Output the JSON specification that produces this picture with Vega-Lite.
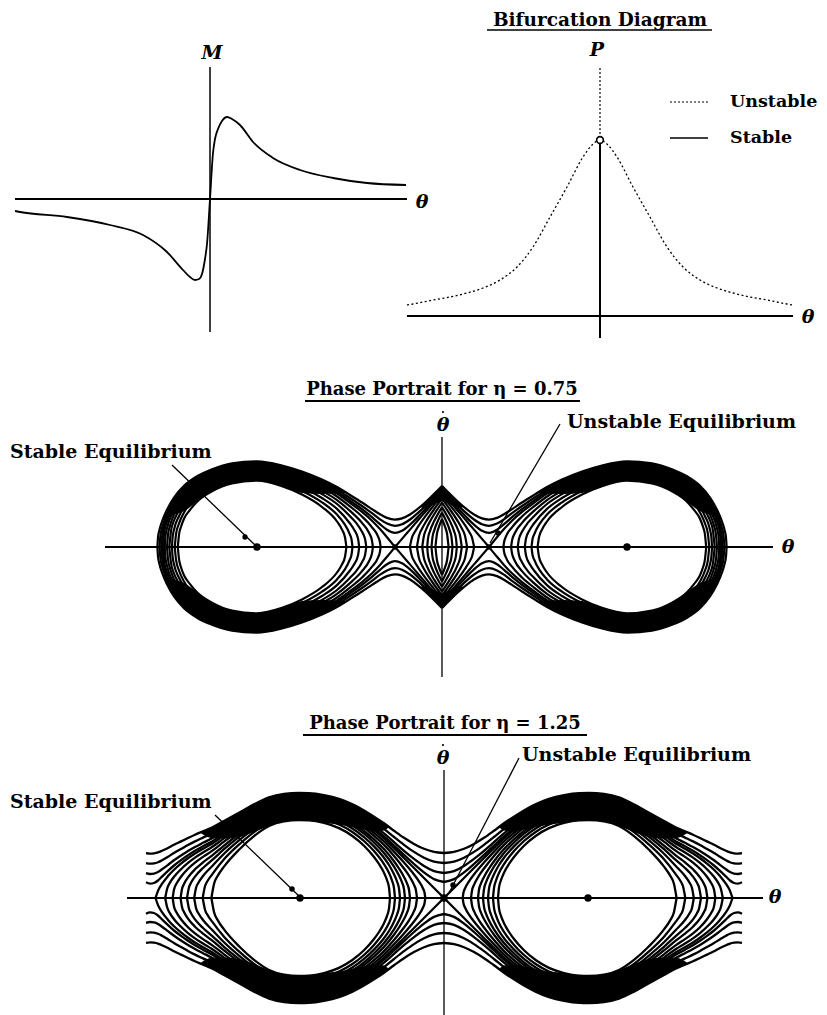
{
  "$schema": "https://vega.github.io/schema/vega-lite/v6.json",
  "background": "white",
  "padding": 0,
  "spacing": 0,
  "bounds": "flush",
  "config": {"view": {"stroke": null}, "concat": {"spacing": 0}},
  "datasets": {
    "p3": [
      {"k":"A","u":0,"w":61.1},{"k":"A","u":8,"w":52.9},{"k":"A","u":16,"w":45.2},{"k":"A","u":24,"w":38.3},{"k":"A","u":32,"w":32.5},{"k":"A","u":40,"w":28.6},{"k":"A","u":47,"w":27.4},{"k":"A","u":55,"w":29.1},{"k":"A","u":62,"w":32.7},{"k":"A","u":70,"w":37.9},{"k":"A","u":80,"w":44.5},{"k":"A","u":92,"w":52.0},{"k":"A","u":105,"w":60.0},{"k":"A","u":120,"w":67.5},{"k":"A","u":140,"w":75.5},{"k":"A","u":160,"w":81.5},{"k":"A","u":185,"w":85.7},{"k":"A","u":210,"w":83.7},{"k":"A","u":230,"w":77.8},{"k":"A","u":245,"w":70.7},{"k":"A","u":258,"w":61.2},{"k":"A","u":268,"w":49.5},{"k":"A","u":275,"w":37.4},{"k":"A","u":280,"w":25.5},{"k":"A","u":282.5,"w":17.3},{"k":"A","u":284,"w":9.5},{"k":"A","u":284.6,"w":0},
      {"k":"B","u":0,"w":58.6},{"k":"B","u":8,"w":50.0},{"k":"B","u":16,"w":41.8},{"k":"B","u":24,"w":34.1},{"k":"B","u":32,"w":27.5},{"k":"B","u":40,"w":22.7},{"k":"B","u":47,"w":21.2},{"k":"B","u":55,"w":23.4},{"k":"B","u":62,"w":27.7},{"k":"B","u":70,"w":33.8},{"k":"B","u":80,"w":41.0},{"k":"B","u":92,"w":49.0},{"k":"B","u":105,"w":57.4},{"k":"B","u":120,"w":65.2},{"k":"B","u":140,"w":73.5},{"k":"B","u":160,"w":79.7},{"k":"B","u":185,"w":84.0},{"k":"B","u":210,"w":81.9},{"k":"B","u":230,"w":75.8},{"k":"B","u":245,"w":68.6},{"k":"B","u":258,"w":58.7},{"k":"B","u":268,"w":46.4},{"k":"B","u":275,"w":33.2},{"k":"B","u":280,"w":18.7},{"k":"B","u":281.5,"w":11.8},{"k":"B","u":282.5,"w":0},
      {"k":"C","u":0,"w":56.4},{"k":"C","u":8,"w":47.5},{"k":"C","u":16,"w":38.7},{"k":"C","u":24,"w":30.2},{"k":"C","u":32,"w":22.4},{"k":"C","u":40,"w":16.3},{"k":"C","u":47,"w":14.1},{"k":"C","u":55,"w":17.2},{"k":"C","u":62,"w":22.8},{"k":"C","u":70,"w":29.8},{"k":"C","u":80,"w":37.8},{"k":"C","u":92,"w":46.4},{"k":"C","u":105,"w":55.2},{"k":"C","u":120,"w":63.2},{"k":"C","u":140,"w":71.8},{"k":"C","u":160,"w":78.1},{"k":"C","u":185,"w":82.5},{"k":"C","u":210,"w":80.3},{"k":"C","u":230,"w":74.2},{"k":"C","u":245,"w":66.7},{"k":"C","u":258,"w":56.6},{"k":"C","u":268,"w":43.6},{"k":"C","u":275,"w":29.2},{"k":"C","u":278,"w":20},{"k":"C","u":280,"w":10},{"k":"C","u":280.7,"w":0},
      {"k":"D1","u":0,"w":54.6},{"k":"D1","u":8,"w":45.3},{"k":"D1","u":16,"w":36.0},{"k":"D1","u":24,"w":26.7},{"k":"D1","u":32,"w":17.4},{"k":"D1","u":40,"w":8.1},{"k":"D1","u":47,"w":0},
      {"k":"D2","u":47,"w":0},{"k":"D2","u":55,"w":9.8},{"k":"D2","u":62,"w":17.9},{"k":"D2","u":70,"w":26.3},{"k":"D2","u":80,"w":35.1},{"k":"D2","u":92,"w":44.2},{"k":"D2","u":105,"w":53.4},{"k":"D2","u":120,"w":61.6},{"k":"D2","u":140,"w":70.4},{"k":"D2","u":160,"w":76.8},{"k":"D2","u":185,"w":81.2},{"k":"D2","u":210,"w":79.1},{"k":"D2","u":230,"w":72.8},{"k":"D2","u":245,"w":65.2},{"k":"D2","u":258,"w":54.8},{"k":"D2","u":268,"w":41.2},{"k":"D2","u":275,"w":25.5},{"k":"D2","u":277.5,"w":16.6},{"k":"D2","u":279.3,"w":0},
      {"k":"E1","u":0,"w":51.8},{"k":"E1","u":8,"w":41.9},{"k":"E1","u":16,"w":31.6},{"k":"E1","u":24,"w":20.3},{"k":"E1","u":28,"w":13.7},{"k":"E1","u":30,"w":9.5},{"k":"E1","u":32.1,"w":0},
      {"k":"E2","u":61.4,"w":0},{"k":"E2","u":62,"w":4.5},{"k":"E2","u":64,"w":10.6},{"k":"E2","u":70,"w":19.7},{"k":"E2","u":80,"w":30.5},{"k":"E2","u":92,"w":40.6},{"k":"E2","u":105,"w":50.5},{"k":"E2","u":120,"w":59.2},{"k":"E2","u":140,"w":68.2},{"k":"E2","u":160,"w":74.8},{"k":"E2","u":185,"w":79.4},{"k":"E2","u":210,"w":77.1},{"k":"E2","u":230,"w":70.7},{"k":"E2","u":245,"w":62.8},{"k":"E2","u":258,"w":52.0},{"k":"E2","u":268,"w":37.4},{"k":"E2","u":275,"w":18.7},{"k":"E2","u":276.5,"w":11.2},{"k":"E2","u":277.3,"w":0},
      {"k":"F1","u":0,"w":48.3},{"k":"F1","u":8,"w":37.5},{"k":"F1","u":16,"w":25.4},{"k":"F1","u":20,"w":18.3},{"k":"F1","u":23,"w":11.3},{"k":"F1","u":25.1,"w":0},
      {"k":"F2","u":69.1,"w":0},{"k":"F2","u":70,"w":6.3},{"k":"F2","u":73,"w":14.2},{"k":"F2","u":80,"w":24.1},{"k":"F2","u":92,"w":36.1},{"k":"F2","u":105,"w":46.9},{"k":"F2","u":120,"w":56.1},{"k":"F2","u":140,"w":65.6},{"k":"F2","u":160,"w":72.5},{"k":"F2","u":185,"w":77.1},{"k":"F2","u":210,"w":74.8},{"k":"F2","u":230,"w":68.2},{"k":"F2","u":245,"w":60.0},{"k":"F2","u":258,"w":48.5},{"k":"F2","u":268,"w":32.4},{"k":"F2","u":272,"w":21.2},{"k":"F2","u":274,"w":12.2},{"k":"F2","u":275,"w":0},
      {"k":"G1","u":0,"w":44.5},{"k":"G1","u":8,"w":32.4},{"k":"G1","u":12,"w":25.6},{"k":"G1","u":16,"w":17.2},{"k":"G1","u":18,"w":11.6},{"k":"G1","u":19.8,"w":0},
      {"k":"G2","u":75.7,"w":0},{"k":"G2","u":77,"w":8.2},{"k":"G2","u":80,"w":15.2},{"k":"G2","u":86,"w":24.3},{"k":"G2","u":92,"w":30.8},{"k":"G2","u":105,"w":43.0},{"k":"G2","u":120,"w":52.9},{"k":"G2","u":140,"w":62.8},{"k":"G2","u":160,"w":70.0},{"k":"G2","u":185,"w":74.8},{"k":"G2","u":210,"w":72.5},{"k":"G2","u":230,"w":65.6},{"k":"G2","u":245,"w":57.0},{"k":"G2","u":258,"w":44.7},{"k":"G2","u":265,"w":33.0},{"k":"G2","u":268,"w":26.5},{"k":"G2","u":271,"w":15.8},{"k":"G2","u":272.7,"w":0},
      {"k":"H1","u":0,"w":39.8},{"k":"H1","u":5,"w":31.3},{"k":"H1","u":8,"w":25.6},{"k":"H1","u":12,"w":15.9},{"k":"H1","u":14,"w":8.4},{"k":"H1","u":14.8,"w":0},
      {"k":"H2","u":82.8,"w":0},{"k":"H2","u":84,"w":8.4},{"k":"H2","u":88,"w":17.6},{"k":"H2","u":92,"w":23.5},{"k":"H2","u":105,"w":38.1},{"k":"H2","u":120,"w":49.0},{"k":"H2","u":140,"w":59.6},{"k":"H2","u":160,"w":67.1},{"k":"H2","u":185,"w":72.1},{"k":"H2","u":210,"w":69.6},{"k":"H2","u":230,"w":62.4},{"k":"H2","u":245,"w":53.4},{"k":"H2","u":258,"w":40.0},{"k":"H2","u":263,"w":30.8},{"k":"H2","u":268,"w":17.3},{"k":"H2","u":269.5,"w":8.7},{"k":"H2","u":270,"w":0},
      {"k":"I1","u":0,"w":34.4},{"k":"I1","u":4,"w":26.4},{"k":"I1","u":8,"w":15.9},{"k":"I1","u":9.5,"w":9.9},{"k":"I1","u":10.5,"w":0},
      {"k":"I2","u":89.5,"w":0},{"k":"I2","u":90.5,"w":7.7},{"k":"I2","u":92,"w":12.2},{"k":"I2","u":98,"w":23.7},{"k":"I2","u":105,"w":32.4},{"k":"I2","u":120,"w":44.7},{"k":"I2","u":140,"w":56.1},{"k":"I2","u":160,"w":64.0},{"k":"I2","u":185,"w":69.3},{"k":"I2","u":210,"w":66.7},{"k":"I2","u":230,"w":59.2},{"k":"I2","u":245,"w":49.5},{"k":"I2","u":258,"w":34.6},{"k":"I2","u":263,"w":23.5},{"k":"I2","u":266,"w":12.6},{"k":"I2","u":267.2,"w":0},
      {"k":"J1","u":0,"w":28.0},{"k":"J1","u":3,"w":20.3},{"k":"J1","u":5,"w":13.5},{"k":"J1","u":6.6,"w":0},
      {"k":"J2","u":95.6,"w":0},{"k":"J2","u":97,"w":9.7},{"k":"J2","u":100,"w":17.4},{"k":"J2","u":105,"w":25.5},{"k":"J2","u":120,"w":40.0},{"k":"J2","u":140,"w":52.4},{"k":"J2","u":160,"w":60.8},{"k":"J2","u":185,"w":66.3},{"k":"J2","u":210,"w":63.6},{"k":"J2","u":230,"w":55.7},{"k":"J2","u":245,"w":45.3},{"k":"J2","u":252,"w":37.1},{"k":"J2","u":258,"w":28.3},{"k":"J2","u":261,"w":20.2},{"k":"J2","u":263,"w":12.2},{"k":"J2","u":264.2,"w":0}
    ],
    "b3": [
      {"s":"band","u":95,"lo":53.9,"hi":53.9},{"s":"band","u":105,"lo":53.4,"hi":60.0},{"s":"band","u":120,"lo":52.9,"hi":67.5},{"s":"band","u":140,"lo":54.0,"hi":75.5},{"s":"band","u":160,"lo":60.8,"hi":81.5},{"s":"band","u":185,"lo":66.3,"hi":85.7},{"s":"band","u":210,"lo":63.6,"hi":83.7},{"s":"band","u":230,"lo":55.7,"hi":77.8},{"s":"band","u":245,"lo":45.3,"hi":70.7},{"s":"band","u":258,"lo":36.0,"hi":61.2},{"s":"band","u":268,"lo":32.4,"hi":49.5},{"s":"band","u":275,"lo":29.2,"hi":37.4},{"s":"band","u":279,"lo":28.0,"hi":28.0},
      {"s":"cap","u":0,"lo":46.0,"hi":61.1},{"s":"cap","u":8,"lo":43.0,"hi":52.9},{"s":"cap","u":16,"lo":39.0,"hi":45.2},{"s":"cap","u":22,"lo":40.0,"hi":40.0}
    ],
    "p4": [
      {"k":"A","u":0,"w":45.0},{"k":"A","u":10,"w":46.1},{"k":"A","u":20,"w":49.2},{"k":"A","u":30,"w":54.1},{"k":"A","u":40,"w":60.2},{"k":"A","u":50,"w":67.3},{"k":"A","u":60,"w":74.7},{"k":"A","u":70,"w":81.4},{"k":"A","u":80,"w":87.6},{"k":"A","u":92,"w":93.9},{"k":"A","u":105,"w":99.1},{"k":"A","u":120,"w":102.8},{"k":"A","u":135,"w":104.8},{"k":"A","u":145,"w":105.0},{"k":"A","u":160,"w":104.0},{"k":"A","u":175,"w":100.6},{"k":"A","u":190,"w":93.7},{"k":"A","u":205,"w":85.3},{"k":"A","u":220,"w":77.0},{"k":"A","u":232,"w":70.5},{"k":"A","u":241,"w":66.7},{"k":"A","u":249,"w":63.3},{"k":"A","u":256,"w":60.0},{"k":"A","u":263,"w":56.6},{"k":"A","u":270,"w":53.2},{"k":"A","u":276,"w":50.0},{"k":"A","u":282,"w":47.2},{"k":"A","u":286,"w":45.6},{"k":"A","u":290,"w":44.7},{"k":"A","u":294,"w":44.4},{"k":"A","u":298,"w":44.9},
      {"k":"B","u":0,"w":35.0},{"k":"B","u":10,"w":36.4},{"k":"B","u":20,"w":40.3},{"k":"B","u":30,"w":46.1},{"k":"B","u":40,"w":53.2},{"k":"B","u":50,"w":61.0},{"k":"B","u":60,"w":69.1},{"k":"B","u":70,"w":76.3},{"k":"B","u":80,"w":82.9},{"k":"B","u":92,"w":89.6},{"k":"B","u":105,"w":95.0},{"k":"B","u":120,"w":98.9},{"k":"B","u":135,"w":100.9},{"k":"B","u":145,"w":101.1},{"k":"B","u":160,"w":100.1},{"k":"B","u":175,"w":96.6},{"k":"B","u":190,"w":89.3},{"k":"B","u":205,"w":80.5},{"k":"B","u":220,"w":71.6},{"k":"B","u":232,"w":64.6},{"k":"B","u":241,"w":60.4},{"k":"B","u":249,"w":56.6},{"k":"B","u":256,"w":53.0},{"k":"B","u":263,"w":49.0},{"k":"B","u":270,"w":45.0},{"k":"B","u":276,"w":41.3},{"k":"B","u":282,"w":37.7},{"k":"B","u":286,"w":35.7},{"k":"B","u":290,"w":34.6},{"k":"B","u":294,"w":34.3},{"k":"B","u":298,"w":34.9},
      {"k":"C","u":0,"w":25.0},{"k":"C","u":10,"w":26.9},{"k":"C","u":20,"w":32.0},{"k":"C","u":30,"w":39.1},{"k":"C","u":40,"w":47.2},{"k":"C","u":50,"w":55.9},{"k":"C","u":60,"w":64.6},{"k":"C","u":70,"w":72.3},{"k":"C","u":80,"w":79.2},{"k":"C","u":92,"w":86.2},{"k":"C","u":105,"w":91.8},{"k":"C","u":120,"w":95.8},{"k":"C","u":135,"w":97.9},{"k":"C","u":145,"w":98.1},{"k":"C","u":160,"w":97.1},{"k":"C","u":175,"w":93.4},{"k":"C","u":190,"w":85.9},{"k":"C","u":205,"w":76.6},{"k":"C","u":220,"w":67.3},{"k":"C","u":232,"w":59.8},{"k":"C","u":241,"w":55.2},{"k":"C","u":249,"w":51.0},{"k":"C","u":256,"w":47.0},{"k":"C","u":263,"w":42.5},{"k":"C","u":270,"w":37.7},{"k":"C","u":276,"w":33.2},{"k":"C","u":282,"w":28.7},{"k":"C","u":286,"w":26.0},{"k":"C","u":290,"w":24.4},{"k":"C","u":294,"w":24.0},{"k":"C","u":298,"w":24.8},
      {"k":"D","u":0,"w":16.0},{"k":"D","u":10,"w":18.9},{"k":"D","u":20,"w":25.6},{"k":"D","u":30,"w":34.0},{"k":"D","u":40,"w":43.1},{"k":"D","u":50,"w":52.5},{"k":"D","u":60,"w":61.7},{"k":"D","u":70,"w":69.7},{"k":"D","u":80,"w":76.9},{"k":"D","u":92,"w":84.0},{"k":"D","u":105,"w":89.8},{"k":"D","u":120,"w":93.8},{"k":"D","u":135,"w":95.9},{"k":"D","u":145,"w":96.2},{"k":"D","u":160,"w":95.2},{"k":"D","u":175,"w":91.4},{"k":"D","u":190,"w":83.7},{"k":"D","u":205,"w":74.2},{"k":"D","u":220,"w":64.5},{"k":"D","u":232,"w":56.6},{"k":"D","u":241,"w":51.7},{"k":"D","u":249,"w":47.3},{"k":"D","u":256,"w":42.8},{"k":"D","u":263,"w":37.9},{"k":"D","u":270,"w":32.5},{"k":"D","u":276,"w":27.1},{"k":"D","u":282,"w":21.4},{"k":"D","u":286,"w":17.5},{"k":"D","u":290,"w":15.0},{"k":"D","u":294,"w":14.4},{"k":"D","u":298,"w":15.7},
      {"k":"E","u":0,"w":0},{"k":"E","u":10,"w":10},{"k":"E","u":20,"w":20},{"k":"E","u":30,"w":30},{"k":"E","u":40,"w":40},{"k":"E","u":50,"w":50},{"k":"E","u":60,"w":59.6},{"k":"E","u":70,"w":67.8},{"k":"E","u":80,"w":75.2},{"k":"E","u":92,"w":82.5},{"k":"E","u":105,"w":88.3},{"k":"E","u":120,"w":92.5},{"k":"E","u":135,"w":94.6},{"k":"E","u":145,"w":94.9},{"k":"E","u":160,"w":93.8},{"k":"E","u":175,"w":90.0},{"k":"E","u":190,"w":82.2},{"k":"E","u":205,"w":72.5},{"k":"E","u":220,"w":62.4},{"k":"E","u":232,"w":54.3},{"k":"E","u":241,"w":49.2},{"k":"E","u":249,"w":44.5},{"k":"E","u":256,"w":39.7},{"k":"E","u":263,"w":34.4},{"k":"E","u":270,"w":28.3},{"k":"E","u":276,"w":21.9},{"k":"E","u":282,"w":14.1},{"k":"E","u":286,"w":7.1},{"k":"E","u":288.5,"w":0},
      {"k":"F","u":18.7,"w":0},{"k":"F","u":19.5,"w":5.5},{"k":"F","u":21,"w":9.5},{"k":"F","u":25,"w":16.6},{"k":"F","u":30,"w":23.5},{"k":"F","u":40,"w":35.4},{"k":"F","u":50,"w":46.4},{"k":"F","u":60,"w":56.6},{"k":"F","u":70,"w":65.2},{"k":"F","u":80,"w":72.8},{"k":"F","u":92,"w":80.3},{"k":"F","u":105,"w":86.3},{"k":"F","u":120,"w":90.6},{"k":"F","u":135,"w":92.7},{"k":"F","u":145,"w":93.0},{"k":"F","u":160,"w":91.9},{"k":"F","u":175,"w":88.0},{"k":"F","u":190,"w":80.0},{"k":"F","u":205,"w":70.0},{"k":"F","u":220,"w":59.6},{"k":"F","u":232,"w":51.0},{"k":"F","u":241,"w":45.5},{"k":"F","u":249,"w":40.4},{"k":"F","u":256,"w":35.1},{"k":"F","u":263,"w":28.8},{"k":"F","u":270,"w":21.2},{"k":"F","u":274,"w":15.4},{"k":"F","u":277,"w":8.8},{"k":"F","u":278.8,"w":0},
      {"k":"G","u":27,"w":0},{"k":"G","u":28,"w":7.4},{"k":"G","u":30,"w":13.1},{"k":"G","u":35,"w":22.3},{"k":"G","u":40,"w":29.5},{"k":"G","u":50,"w":42.1},{"k":"G","u":60,"w":53.1},{"k":"G","u":70,"w":62.2},{"k":"G","u":80,"w":70.1},{"k":"G","u":92,"w":77.9},{"k":"G","u":105,"w":84.1},{"k":"G","u":120,"w":88.4},{"k":"G","u":135,"w":90.7},{"k":"G","u":145,"w":90.9},{"k":"G","u":160,"w":89.8},{"k":"G","u":175,"w":85.9},{"k":"G","u":190,"w":77.6},{"k":"G","u":205,"w":67.2},{"k":"G","u":220,"w":56.3},{"k":"G","u":232,"w":47.1},{"k":"G","u":241,"w":41.1},{"k":"G","u":249,"w":35.4},{"k":"G","u":256,"w":29.2},{"k":"G","u":263,"w":21.2},{"k":"G","u":267,"w":15.3},{"k":"G","u":270,"w":8.4},{"k":"G","u":271.3,"w":0},
      {"k":"H","u":34,"w":0},{"k":"H","u":35,"w":8.3},{"k":"H","u":37,"w":14.6},{"k":"H","u":40,"w":21.1},{"k":"H","u":45,"w":29.5},{"k":"H","u":50,"w":36.7},{"k":"H","u":60,"w":48.9},{"k":"H","u":70,"w":58.7},{"k":"H","u":80,"w":67.0},{"k":"H","u":92,"w":75.1},{"k":"H","u":105,"w":81.5},{"k":"H","u":120,"w":86.0},{"k":"H","u":135,"w":88.3},{"k":"H","u":145,"w":88.6},{"k":"H","u":160,"w":87.4},{"k":"H","u":175,"w":83.3},{"k":"H","u":190,"w":74.8},{"k":"H","u":205,"w":64.0},{"k":"H","u":220,"w":52.4},{"k":"H","u":232,"w":42.4},{"k":"H","u":241,"w":35.6},{"k":"H","u":249,"w":28.7},{"k":"H","u":256,"w":20.6},{"k":"H","u":260,"w":14.0},{"k":"H","u":262,"w":9.0},{"k":"H","u":263.4,"w":0},
      {"k":"I","u":39,"w":0},{"k":"I","u":40,"w":8.9},{"k":"I","u":42,"w":15.6},{"k":"I","u":45,"w":22.4},{"k":"I","u":50,"w":31.3},{"k":"I","u":60,"w":45.0},{"k":"I","u":70,"w":55.5},{"k":"I","u":80,"w":64.3},{"k":"I","u":92,"w":72.7},{"k":"I","u":105,"w":79.2},{"k":"I","u":120,"w":83.8},{"k":"I","u":135,"w":86.2},{"k":"I","u":145,"w":86.5},{"k":"I","u":160,"w":85.3},{"k":"I","u":175,"w":81.1},{"k":"I","u":190,"w":72.3},{"k":"I","u":205,"w":61.1},{"k":"I","u":220,"w":48.8},{"k":"I","u":232,"w":37.8},{"k":"I","u":241,"w":30.0},{"k":"I","u":249,"w":21.4},{"k":"I","u":253,"w":15.2},{"k":"I","u":255,"w":10.8},{"k":"I","u":257,"w":0},
      {"k":"J","u":44,"w":0},{"k":"J","u":45,"w":9.4},{"k":"J","u":47,"w":16.5},{"k":"J","u":50,"w":23.7},{"k":"J","u":55,"w":33.0},{"k":"J","u":60,"w":40.2},{"k":"J","u":70,"w":51.6},{"k":"J","u":80,"w":60.9},{"k":"J","u":92,"w":69.7},{"k":"J","u":105,"w":76.6},{"k":"J","u":120,"w":81.3},{"k":"J","u":135,"w":83.7},{"k":"J","u":145,"w":84.0},{"k":"J","u":160,"w":82.8},{"k":"J","u":175,"w":78.5},{"k":"J","u":190,"w":69.4},{"k":"J","u":205,"w":57.6},{"k":"J","u":220,"w":44.3},{"k":"J","u":232,"w":31.8},{"k":"J","u":241,"w":22.0},{"k":"J","u":245,"w":16.2},{"k":"J","u":248,"w":9.9},{"k":"J","u":249.8,"w":0},
      {"k":"K","u":49,"w":0},{"k":"K","u":50,"w":9.9},{"k":"K","u":52,"w":17.4},{"k":"K","u":55,"w":25.0},{"k":"K","u":60,"w":33.9},{"k":"K","u":70,"w":46.9},{"k":"K","u":80,"w":57.0},{"k":"K","u":92,"w":66.3},{"k":"K","u":105,"w":73.5},{"k":"K","u":120,"w":78.4},{"k":"K","u":135,"w":80.9},{"k":"K","u":145,"w":81.2},{"k":"K","u":160,"w":80.0},{"k":"K","u":175,"w":75.5},{"k":"K","u":190,"w":65.9},{"k":"K","u":205,"w":53.4},{"k":"K","u":220,"w":38.7},{"k":"K","u":232,"w":23.4},{"k":"K","u":236,"w":17.7},{"k":"K","u":239,"w":11.7},{"k":"K","u":241.3,"w":0},
      {"k":"L","u":54,"w":0},{"k":"L","u":55,"w":10.4},{"k":"L","u":57,"w":17.9},{"k":"L","u":60,"w":25.2},{"k":"L","u":65,"w":34.0},{"k":"L","u":70,"w":41.0},{"k":"L","u":80,"w":52.3},{"k":"L","u":92,"w":62.3},{"k":"L","u":105,"w":69.9},{"k":"L","u":120,"w":75.1},{"k":"L","u":135,"w":77.7},{"k":"L","u":145,"w":78.0},{"k":"L","u":160,"w":76.7},{"k":"L","u":175,"w":72.0},{"k":"L","u":190,"w":61.9},{"k":"L","u":205,"w":48.3},{"k":"L","u":220,"w":31.4},{"k":"L","u":226,"w":22.6},{"k":"L","u":230,"w":13.9},{"k":"L","u":232.6,"w":0}
    ],
    "b4": [
      {"s":"band","u":55,"lo":71.1,"hi":71.1},{"s":"band","u":60,"lo":67.5,"hi":74.7},{"s":"band","u":70,"lo":66.5,"hi":81.4},{"s":"band","u":80,"lo":68.5,"hi":87.6},{"s":"band","u":92,"lo":71.0,"hi":93.9},{"s":"band","u":105,"lo":73.5,"hi":99.1},{"s":"band","u":120,"lo":75.1,"hi":102.8},{"s":"band","u":135,"lo":77.7,"hi":104.8},{"s":"band","u":145,"lo":78.0,"hi":105.0},{"s":"band","u":160,"lo":76.7,"hi":104.0},{"s":"band","u":175,"lo":72.0,"hi":100.6},{"s":"band","u":190,"lo":65.9,"hi":93.7},{"s":"band","u":205,"lo":61.1,"hi":85.3},{"s":"band","u":220,"lo":59.6,"hi":77.0},{"s":"band","u":232,"lo":59.8,"hi":70.5},{"s":"band","u":244,"lo":65.4,"hi":65.4}
    ]
  },
  "vconcat": [
    {
      "width": 827,
      "height": 345,
      "resolve": {"scale": {"x": "independent", "y": "independent"}},
      "layer": [
        {
          "data": {"values": [{"u": -195, "u2": 197, "w": 0}]},
          "mark": {"type": "rule", "color": "#000", "strokeWidth": 2},
          "encoding": {
            "x": {"field": "u", "type": "quantitative", "scale": {"domain": [-210, 617], "nice": false, "zero": false}, "axis": null},
            "x2": {"field": "u2"},
            "y": {"field": "w", "type": "quantitative", "scale": {"domain": [-146, 199], "nice": false, "zero": false}, "axis": null}
          }
        },
        {
          "data": {"values": [{"u": 0, "w": 132, "w2": -133}]},
          "mark": {"type": "rule", "color": "#000", "strokeWidth": 1.5},
          "encoding": {
            "x": {"field": "u", "type": "quantitative", "scale": {"domain": [-210, 617], "nice": false, "zero": false}, "axis": null},
            "y": {"field": "w", "type": "quantitative", "scale": {"domain": [-146, 199], "nice": false, "zero": false}, "axis": null},
            "y2": {"field": "w2"}
          }
        },
        {
          "data": {"values": [
            {"u": -195, "w": -12}, {"u": -190, "w": -13}, {"u": -143, "w": -18}, {"u": -100, "w": -26}, {"u": -67, "w": -36},
            {"u": -43, "w": -53}, {"u": -27, "w": -71}, {"u": -20, "w": -78}, {"u": -15, "w": -81}, {"u": -11, "w": -80},
            {"u": -8, "w": -75}, {"u": -5, "w": -60}, {"u": -3, "w": -45}, {"u": 0, "w": 0}, {"u": 3, "w": 46},
            {"u": 5, "w": 60}, {"u": 8, "w": 70}, {"u": 12, "w": 78}, {"u": 17, "w": 82}, {"u": 22, "w": 80},
            {"u": 30, "w": 74}, {"u": 43, "w": 57}, {"u": 63, "w": 41}, {"u": 90, "w": 29}, {"u": 123, "w": 21},
            {"u": 157, "w": 16}, {"u": 196, "w": 14}
          ]},
          "mark": {"type": "line", "interpolate": "monotone", "color": "#000", "strokeWidth": 1.8},
          "encoding": {
            "x": {"field": "u", "type": "quantitative", "scale": {"domain": [-210, 617], "nice": false, "zero": false}, "axis": null},
            "y": {"field": "w", "type": "quantitative", "scale": {"domain": [-146, 199], "nice": false, "zero": false}, "axis": null},
            "order": {"field": "u", "type": "quantitative"}
          }
        },
        {
          "data": {"values": [{"u": 2, "w": 146, "t": "M"}, {"u": 212, "w": -3, "t": "θ"}]},
          "mark": {"type": "text", "font": "DejaVu Serif", "fontWeight": "bold", "fontStyle": "italic", "fontSize": 19, "align": "center", "baseline": "middle", "color": "#000"},
          "encoding": {
            "x": {"field": "u", "type": "quantitative", "scale": {"domain": [-210, 617], "nice": false, "zero": false}, "axis": null},
            "y": {"field": "w", "type": "quantitative", "scale": {"domain": [-146, 199], "nice": false, "zero": false}, "axis": null},
            "text": {"field": "t"}
          }
        },
        {
          "data": {"values": [{"u": -193, "u2": 193, "w": 0}]},
          "mark": {"type": "rule", "color": "#000", "strokeWidth": 2},
          "encoding": {
            "x": {"field": "u", "type": "quantitative", "scale": {"domain": [-600, 227], "nice": false, "zero": false}, "axis": null},
            "x2": {"field": "u2"},
            "y": {"field": "w", "type": "quantitative", "scale": {"domain": [-29, 316], "nice": false, "zero": false}, "axis": null}
          }
        },
        {
          "data": {"values": [{"u": 0, "w": 176, "w2": -22}]},
          "mark": {"type": "rule", "color": "#000", "strokeWidth": 2},
          "encoding": {
            "x": {"field": "u", "type": "quantitative", "scale": {"domain": [-600, 227], "nice": false, "zero": false}, "axis": null},
            "y": {"field": "w", "type": "quantitative", "scale": {"domain": [-29, 316], "nice": false, "zero": false}, "axis": null},
            "y2": {"field": "w2"}
          }
        },
        {
          "data": {"values": [{"u": 0, "w": 248, "w2": 178}]},
          "mark": {"type": "rule", "color": "#000", "strokeWidth": 1.2, "strokeDash": [2, 2]},
          "encoding": {
            "x": {"field": "u", "type": "quantitative", "scale": {"domain": [-600, 227], "nice": false, "zero": false}, "axis": null},
            "y": {"field": "w", "type": "quantitative", "scale": {"domain": [-29, 316], "nice": false, "zero": false}, "axis": null},
            "y2": {"field": "w2"}
          }
        },
        {
          "data": {"values": [
            {"u": -193, "w": 11}, {"u": -187, "w": 12}, {"u": -167, "w": 16}, {"u": -150, "w": 19}, {"u": -133, "w": 23},
            {"u": -117, "w": 28}, {"u": -100, "w": 36}, {"u": -83, "w": 49}, {"u": -67, "w": 69}, {"u": -50, "w": 99},
            {"u": -33, "w": 129}, {"u": -17, "w": 159}, {"u": -8, "w": 171}, {"u": 0, "w": 176}, {"u": 8, "w": 171},
            {"u": 17, "w": 159}, {"u": 33, "w": 129}, {"u": 50, "w": 99}, {"u": 67, "w": 69}, {"u": 83, "w": 49},
            {"u": 100, "w": 36}, {"u": 117, "w": 28}, {"u": 133, "w": 23}, {"u": 150, "w": 19}, {"u": 167, "w": 16},
            {"u": 187, "w": 12}, {"u": 193, "w": 11}
          ]},
          "mark": {"type": "line", "interpolate": "monotone", "color": "#000", "strokeWidth": 1.3, "strokeDash": [2, 2.5]},
          "encoding": {
            "x": {"field": "u", "type": "quantitative", "scale": {"domain": [-600, 227], "nice": false, "zero": false}, "axis": null},
            "y": {"field": "w", "type": "quantitative", "scale": {"domain": [-29, 316], "nice": false, "zero": false}, "axis": null},
            "order": {"field": "u", "type": "quantitative"}
          }
        },
        {
          "data": {"values": [{"u": 0, "w": 176}]},
          "mark": {"type": "circle", "size": 45, "fill": "white", "stroke": "#000", "strokeWidth": 1.6, "opacity": 1},
          "encoding": {
            "x": {"field": "u", "type": "quantitative", "scale": {"domain": [-600, 227], "nice": false, "zero": false}, "axis": null},
            "y": {"field": "w", "type": "quantitative", "scale": {"domain": [-29, 316], "nice": false, "zero": false}, "axis": null}
          }
        },
        {
          "data": {"values": [{"u": 70, "u2": 108, "w": 214}]},
          "mark": {"type": "rule", "color": "#000", "strokeWidth": 1.2, "strokeDash": [2, 2]},
          "encoding": {
            "x": {"field": "u", "type": "quantitative", "scale": {"domain": [-600, 227], "nice": false, "zero": false}, "axis": null},
            "x2": {"field": "u2"},
            "y": {"field": "w", "type": "quantitative", "scale": {"domain": [-29, 316], "nice": false, "zero": false}, "axis": null}
          }
        },
        {
          "data": {"values": [{"u": 70, "u2": 108, "w": 178}, {"u": -113, "u2": 112, "w": 286}]},
          "mark": {"type": "rule", "color": "#000", "strokeWidth": 1.6},
          "encoding": {
            "x": {"field": "u", "type": "quantitative", "scale": {"domain": [-600, 227], "nice": false, "zero": false}, "axis": null},
            "x2": {"field": "u2"},
            "y": {"field": "w", "type": "quantitative", "scale": {"domain": [-29, 316], "nice": false, "zero": false}, "axis": null}
          }
        },
        {
          "data": {"values": [{"u": 130, "w": 214, "t": "Unstable"}, {"u": 130, "w": 178, "t": "Stable"}]},
          "mark": {"type": "text", "font": "DejaVu Serif", "fontWeight": "bold", "fontSize": 17.5, "align": "left", "baseline": "middle", "color": "#000"},
          "encoding": {
            "x": {"field": "u", "type": "quantitative", "scale": {"domain": [-600, 227], "nice": false, "zero": false}, "axis": null},
            "y": {"field": "w", "type": "quantitative", "scale": {"domain": [-29, 316], "nice": false, "zero": false}, "axis": null},
            "text": {"field": "t"}
          }
        },
        {
          "data": {"values": [{"u": 0, "w": 296, "t": "Bifurcation Diagram"}]},
          "mark": {"type": "text", "font": "DejaVu Serif", "fontWeight": "bold", "fontSize": 18.5, "align": "center", "baseline": "middle", "color": "#000"},
          "encoding": {
            "x": {"field": "u", "type": "quantitative", "scale": {"domain": [-600, 227], "nice": false, "zero": false}, "axis": null},
            "y": {"field": "w", "type": "quantitative", "scale": {"domain": [-29, 316], "nice": false, "zero": false}, "axis": null},
            "text": {"field": "t"}
          }
        },
        {
          "data": {"values": [{"u": -3, "w": 266, "t": "P"}, {"u": 208, "w": -1, "t": "θ"}]},
          "mark": {"type": "text", "font": "DejaVu Serif", "fontWeight": "bold", "fontStyle": "italic", "fontSize": 19, "align": "center", "baseline": "middle", "color": "#000"},
          "encoding": {
            "x": {"field": "u", "type": "quantitative", "scale": {"domain": [-600, 227], "nice": false, "zero": false}, "axis": null},
            "y": {"field": "w", "type": "quantitative", "scale": {"domain": [-29, 316], "nice": false, "zero": false}, "axis": null},
            "text": {"field": "t"}
          }
        }
      ]
    },
    {
      "width": 827,
      "height": 355,
      "resolve": {"scale": {"x": "independent", "y": "independent"}},
      "layer": [
        {
          "data": {"name": "b3"},
          "mark": {"type": "area", "orient": "vertical", "interpolate": "monotone", "color": "#000", "opacity": 1},
          "encoding": {
            "x": {"field": "u", "type": "quantitative", "scale": {"domain": [-442, 385], "nice": false, "zero": false}, "axis": null},
            "y": {"field": "hi", "type": "quantitative", "stack": null, "scale": {"domain": [-153, 202], "nice": false, "zero": false}, "axis": null},
            "y2": {"field": "lo"},
            "detail": {"field": "s"}
          }
        },
        {
          "data": {"name": "b3"},
          "mark": {"type": "area", "orient": "vertical", "interpolate": "monotone", "color": "#000", "opacity": 1},
          "encoding": {
            "x": {"field": "u", "type": "quantitative", "scale": {"domain": [-385, 442], "reverse": true, "nice": false, "zero": false}, "axis": null},
            "y": {"field": "hi", "type": "quantitative", "stack": null, "scale": {"domain": [-153, 202], "nice": false, "zero": false}, "axis": null},
            "y2": {"field": "lo"},
            "detail": {"field": "s"}
          }
        },
        {
          "data": {"name": "b3"},
          "mark": {"type": "area", "orient": "vertical", "interpolate": "monotone", "color": "#000", "opacity": 1},
          "encoding": {
            "x": {"field": "u", "type": "quantitative", "scale": {"domain": [-442, 385], "nice": false, "zero": false}, "axis": null},
            "y": {"field": "hi", "type": "quantitative", "stack": null, "scale": {"domain": [-202, 153], "reverse": true, "nice": false, "zero": false}, "axis": null},
            "y2": {"field": "lo"},
            "detail": {"field": "s"}
          }
        },
        {
          "data": {"name": "b3"},
          "mark": {"type": "area", "orient": "vertical", "interpolate": "monotone", "color": "#000", "opacity": 1},
          "encoding": {
            "x": {"field": "u", "type": "quantitative", "scale": {"domain": [-385, 442], "reverse": true, "nice": false, "zero": false}, "axis": null},
            "y": {"field": "hi", "type": "quantitative", "stack": null, "scale": {"domain": [-202, 153], "reverse": true, "nice": false, "zero": false}, "axis": null},
            "y2": {"field": "lo"},
            "detail": {"field": "s"}
          }
        },
        {
          "data": {"name": "p3"},
          "mark": {"type": "line", "interpolate": "monotone", "color": "#000", "strokeWidth": 2.2},
          "encoding": {
            "x": {"field": "u", "type": "quantitative", "scale": {"domain": [-442, 385], "nice": false, "zero": false}, "axis": null},
            "y": {"field": "w", "type": "quantitative", "scale": {"domain": [-153, 202], "nice": false, "zero": false}, "axis": null},
            "detail": {"field": "k"},
            "order": {"field": "u", "type": "quantitative"}
          }
        },
        {
          "data": {"name": "p3"},
          "mark": {"type": "line", "interpolate": "monotone", "color": "#000", "strokeWidth": 2.2},
          "encoding": {
            "x": {"field": "u", "type": "quantitative", "scale": {"domain": [-385, 442], "reverse": true, "nice": false, "zero": false}, "axis": null},
            "y": {"field": "w", "type": "quantitative", "scale": {"domain": [-153, 202], "nice": false, "zero": false}, "axis": null},
            "detail": {"field": "k"},
            "order": {"field": "u", "type": "quantitative", "sort": "descending"}
          }
        },
        {
          "data": {"name": "p3"},
          "mark": {"type": "line", "interpolate": "monotone", "color": "#000", "strokeWidth": 2.2},
          "encoding": {
            "x": {"field": "u", "type": "quantitative", "scale": {"domain": [-442, 385], "nice": false, "zero": false}, "axis": null},
            "y": {"field": "w", "type": "quantitative", "scale": {"domain": [-202, 153], "reverse": true, "nice": false, "zero": false}, "axis": null},
            "detail": {"field": "k"},
            "order": {"field": "u", "type": "quantitative"}
          }
        },
        {
          "data": {"name": "p3"},
          "mark": {"type": "line", "interpolate": "monotone", "color": "#000", "strokeWidth": 2.2},
          "encoding": {
            "x": {"field": "u", "type": "quantitative", "scale": {"domain": [-385, 442], "reverse": true, "nice": false, "zero": false}, "axis": null},
            "y": {"field": "w", "type": "quantitative", "scale": {"domain": [-202, 153], "reverse": true, "nice": false, "zero": false}, "axis": null},
            "detail": {"field": "k"},
            "order": {"field": "u", "type": "quantitative", "sort": "descending"}
          }
        },
        {
          "data": {"values": [{"u": -337, "u2": 331, "w": 0}, {"u": -137, "u2": 138, "w": 146}]},
          "mark": {"type": "rule", "color": "#000", "strokeWidth": 1.8},
          "encoding": {
            "x": {"field": "u", "type": "quantitative", "scale": {"domain": [-442, 385], "nice": false, "zero": false}, "axis": null},
            "x2": {"field": "u2"},
            "y": {"field": "w", "type": "quantitative", "scale": {"domain": [-153, 202], "nice": false, "zero": false}, "axis": null}
          }
        },
        {
          "data": {"values": [{"u": 0, "w": 110, "u2": 0, "w2": -130}, {"u": -270, "w": 82, "u2": -187, "w2": 2}, {"u": 118, "w": 123, "u2": 48, "w2": 4}]},
          "mark": {"type": "rule", "color": "#000", "strokeWidth": 1.3},
          "encoding": {
            "x": {"field": "u", "type": "quantitative", "scale": {"domain": [-442, 385], "nice": false, "zero": false}, "axis": null},
            "x2": {"field": "u2"},
            "y": {"field": "w", "type": "quantitative", "scale": {"domain": [-153, 202], "nice": false, "zero": false}, "axis": null},
            "y2": {"field": "w2"}
          }
        },
        {
          "data": {"values": [{"u": -185, "w": 0}, {"u": 185, "w": 0}]},
          "mark": {"type": "circle", "size": 55, "color": "#000", "opacity": 1},
          "encoding": {
            "x": {"field": "u", "type": "quantitative", "scale": {"domain": [-442, 385], "nice": false, "zero": false}, "axis": null},
            "y": {"field": "w", "type": "quantitative", "scale": {"domain": [-153, 202], "nice": false, "zero": false}, "axis": null}
          }
        },
        {
          "data": {"values": [{"u": -47, "w": 0}, {"u": 47, "w": 0}, {"u": -197, "w": 10}, {"u": 56, "w": 14}]},
          "mark": {"type": "circle", "size": 28, "color": "#000", "opacity": 1},
          "encoding": {
            "x": {"field": "u", "type": "quantitative", "scale": {"domain": [-442, 385], "nice": false, "zero": false}, "axis": null},
            "y": {"field": "w", "type": "quantitative", "scale": {"domain": [-153, 202], "nice": false, "zero": false}, "axis": null}
          }
        },
        {
          "data": {"values": [{"u": 1, "w": 135}]},
          "mark": {"type": "circle", "size": 5, "color": "#000", "opacity": 1},
          "encoding": {
            "x": {"field": "u", "type": "quantitative", "scale": {"domain": [-442, 385], "nice": false, "zero": false}, "axis": null},
            "y": {"field": "w", "type": "quantitative", "scale": {"domain": [-153, 202], "nice": false, "zero": false}, "axis": null}
          }
        },
        {
          "data": {"values": [{"u": 0, "w": 157, "t": "Phase Portrait for η = 0.75"}]},
          "mark": {"type": "text", "font": "DejaVu Serif", "fontWeight": "bold", "fontSize": 18, "align": "center", "baseline": "middle", "color": "#000"},
          "encoding": {
            "x": {"field": "u", "type": "quantitative", "scale": {"domain": [-442, 385], "nice": false, "zero": false}, "axis": null},
            "y": {"field": "w", "type": "quantitative", "scale": {"domain": [-153, 202], "nice": false, "zero": false}, "axis": null},
            "text": {"field": "t"}
          }
        },
        {
          "data": {"values": [{"u": -432, "w": 95, "t": "Stable Equilibrium"}, {"u": 125, "w": 125, "t": "Unstable Equilibrium"}]},
          "mark": {"type": "text", "font": "DejaVu Serif", "fontWeight": "bold", "fontSize": 19, "align": "left", "baseline": "middle", "color": "#000"},
          "encoding": {
            "x": {"field": "u", "type": "quantitative", "scale": {"domain": [-442, 385], "nice": false, "zero": false}, "axis": null},
            "y": {"field": "w", "type": "quantitative", "scale": {"domain": [-153, 202], "nice": false, "zero": false}, "axis": null},
            "text": {"field": "t"}
          }
        },
        {
          "data": {"values": [{"u": 1, "w": 122, "t": "θ"}, {"u": 346, "w": 0, "t": "θ"}]},
          "mark": {"type": "text", "font": "DejaVu Serif", "fontWeight": "bold", "fontStyle": "italic", "fontSize": 19, "align": "center", "baseline": "middle", "color": "#000"},
          "encoding": {
            "x": {"field": "u", "type": "quantitative", "scale": {"domain": [-442, 385], "nice": false, "zero": false}, "axis": null},
            "y": {"field": "w", "type": "quantitative", "scale": {"domain": [-153, 202], "nice": false, "zero": false}, "axis": null},
            "text": {"field": "t"}
          }
        }
      ]
    },
    {
      "width": 827,
      "height": 315,
      "resolve": {"scale": {"x": "independent", "y": "independent"}},
      "layer": [
        {
          "data": {"name": "b4"},
          "mark": {"type": "area", "orient": "vertical", "interpolate": "monotone", "color": "#000", "opacity": 1},
          "encoding": {
            "x": {"field": "u", "type": "quantitative", "scale": {"domain": [-444, 383], "nice": false, "zero": false}, "axis": null},
            "y": {"field": "hi", "type": "quantitative", "stack": null, "scale": {"domain": [-117, 198], "nice": false, "zero": false}, "axis": null},
            "y2": {"field": "lo"},
            "detail": {"field": "s"}
          }
        },
        {
          "data": {"name": "b4"},
          "mark": {"type": "area", "orient": "vertical", "interpolate": "monotone", "color": "#000", "opacity": 1},
          "encoding": {
            "x": {"field": "u", "type": "quantitative", "scale": {"domain": [-383, 444], "reverse": true, "nice": false, "zero": false}, "axis": null},
            "y": {"field": "hi", "type": "quantitative", "stack": null, "scale": {"domain": [-117, 198], "nice": false, "zero": false}, "axis": null},
            "y2": {"field": "lo"},
            "detail": {"field": "s"}
          }
        },
        {
          "data": {"name": "b4"},
          "mark": {"type": "area", "orient": "vertical", "interpolate": "monotone", "color": "#000", "opacity": 1},
          "encoding": {
            "x": {"field": "u", "type": "quantitative", "scale": {"domain": [-444, 383], "nice": false, "zero": false}, "axis": null},
            "y": {"field": "hi", "type": "quantitative", "stack": null, "scale": {"domain": [-198, 117], "reverse": true, "nice": false, "zero": false}, "axis": null},
            "y2": {"field": "lo"},
            "detail": {"field": "s"}
          }
        },
        {
          "data": {"name": "b4"},
          "mark": {"type": "area", "orient": "vertical", "interpolate": "monotone", "color": "#000", "opacity": 1},
          "encoding": {
            "x": {"field": "u", "type": "quantitative", "scale": {"domain": [-383, 444], "reverse": true, "nice": false, "zero": false}, "axis": null},
            "y": {"field": "hi", "type": "quantitative", "stack": null, "scale": {"domain": [-198, 117], "reverse": true, "nice": false, "zero": false}, "axis": null},
            "y2": {"field": "lo"},
            "detail": {"field": "s"}
          }
        },
        {
          "data": {"name": "p4"},
          "mark": {"type": "line", "interpolate": "monotone", "color": "#000", "strokeWidth": 2.3},
          "encoding": {
            "x": {"field": "u", "type": "quantitative", "scale": {"domain": [-444, 383], "nice": false, "zero": false}, "axis": null},
            "y": {"field": "w", "type": "quantitative", "scale": {"domain": [-117, 198], "nice": false, "zero": false}, "axis": null},
            "detail": {"field": "k"},
            "order": {"field": "u", "type": "quantitative"}
          }
        },
        {
          "data": {"name": "p4"},
          "mark": {"type": "line", "interpolate": "monotone", "color": "#000", "strokeWidth": 2.3},
          "encoding": {
            "x": {"field": "u", "type": "quantitative", "scale": {"domain": [-383, 444], "reverse": true, "nice": false, "zero": false}, "axis": null},
            "y": {"field": "w", "type": "quantitative", "scale": {"domain": [-117, 198], "nice": false, "zero": false}, "axis": null},
            "detail": {"field": "k"},
            "order": {"field": "u", "type": "quantitative", "sort": "descending"}
          }
        },
        {
          "data": {"name": "p4"},
          "mark": {"type": "line", "interpolate": "monotone", "color": "#000", "strokeWidth": 2.3},
          "encoding": {
            "x": {"field": "u", "type": "quantitative", "scale": {"domain": [-444, 383], "nice": false, "zero": false}, "axis": null},
            "y": {"field": "w", "type": "quantitative", "scale": {"domain": [-198, 117], "reverse": true, "nice": false, "zero": false}, "axis": null},
            "detail": {"field": "k"},
            "order": {"field": "u", "type": "quantitative"}
          }
        },
        {
          "data": {"name": "p4"},
          "mark": {"type": "line", "interpolate": "monotone", "color": "#000", "strokeWidth": 2.3},
          "encoding": {
            "x": {"field": "u", "type": "quantitative", "scale": {"domain": [-383, 444], "reverse": true, "nice": false, "zero": false}, "axis": null},
            "y": {"field": "w", "type": "quantitative", "scale": {"domain": [-198, 117], "reverse": true, "nice": false, "zero": false}, "axis": null},
            "detail": {"field": "k"},
            "order": {"field": "u", "type": "quantitative", "sort": "descending"}
          }
        },
        {
          "data": {"values": [{"u": -317, "u2": 319, "w": 0}, {"u": -141, "u2": 143, "w": 163}]},
          "mark": {"type": "rule", "color": "#000", "strokeWidth": 1.8},
          "encoding": {
            "x": {"field": "u", "type": "quantitative", "scale": {"domain": [-444, 383], "nice": false, "zero": false}, "axis": null},
            "x2": {"field": "u2"},
            "y": {"field": "w", "type": "quantitative", "scale": {"domain": [-117, 198], "nice": false, "zero": false}, "axis": null}
          }
        },
        {
          "data": {"values": [{"u": 0, "w": 128, "u2": 0, "w2": -117}, {"u": -229, "w": 83, "u2": -144, "w2": 1}, {"u": 75, "w": 140, "u2": 5, "w2": 5}]},
          "mark": {"type": "rule", "color": "#000", "strokeWidth": 1.3},
          "encoding": {
            "x": {"field": "u", "type": "quantitative", "scale": {"domain": [-444, 383], "nice": false, "zero": false}, "axis": null},
            "x2": {"field": "u2"},
            "y": {"field": "w", "type": "quantitative", "scale": {"domain": [-117, 198], "nice": false, "zero": false}, "axis": null},
            "y2": {"field": "w2"}
          }
        },
        {
          "data": {"values": [{"u": -144, "w": 0}, {"u": 144, "w": 0}, {"u": 0, "w": 0}]},
          "mark": {"type": "circle", "size": 55, "color": "#000", "opacity": 1},
          "encoding": {
            "x": {"field": "u", "type": "quantitative", "scale": {"domain": [-444, 383], "nice": false, "zero": false}, "axis": null},
            "y": {"field": "w", "type": "quantitative", "scale": {"domain": [-117, 198], "nice": false, "zero": false}, "axis": null}
          }
        },
        {
          "data": {"values": [{"u": -152, "w": 9}, {"u": 9, "w": 13}]},
          "mark": {"type": "circle", "size": 30, "color": "#000", "opacity": 1},
          "encoding": {
            "x": {"field": "u", "type": "quantitative", "scale": {"domain": [-444, 383], "nice": false, "zero": false}, "axis": null},
            "y": {"field": "w", "type": "quantitative", "scale": {"domain": [-117, 198], "nice": false, "zero": false}, "axis": null}
          }
        },
        {
          "data": {"values": [{"u": -1, "w": 153}]},
          "mark": {"type": "circle", "size": 5, "color": "#000", "opacity": 1},
          "encoding": {
            "x": {"field": "u", "type": "quantitative", "scale": {"domain": [-444, 383], "nice": false, "zero": false}, "axis": null},
            "y": {"field": "w", "type": "quantitative", "scale": {"domain": [-117, 198], "nice": false, "zero": false}, "axis": null}
          }
        },
        {
          "data": {"values": [{"u": 1, "w": 174, "t": "Phase Portrait for η = 1.25"}]},
          "mark": {"type": "text", "font": "DejaVu Serif", "fontWeight": "bold", "fontSize": 18, "align": "center", "baseline": "middle", "color": "#000"},
          "encoding": {
            "x": {"field": "u", "type": "quantitative", "scale": {"domain": [-444, 383], "nice": false, "zero": false}, "axis": null},
            "y": {"field": "w", "type": "quantitative", "scale": {"domain": [-117, 198], "nice": false, "zero": false}, "axis": null},
            "text": {"field": "t"}
          }
        },
        {
          "data": {"values": [{"u": -434, "w": 96, "t": "Stable Equilibrium"}, {"u": 78, "w": 143, "t": "Unstable Equilibrium"}]},
          "mark": {"type": "text", "font": "DejaVu Serif", "fontWeight": "bold", "fontSize": 19, "align": "left", "baseline": "middle", "color": "#000"},
          "encoding": {
            "x": {"field": "u", "type": "quantitative", "scale": {"domain": [-444, 383], "nice": false, "zero": false}, "axis": null},
            "y": {"field": "w", "type": "quantitative", "scale": {"domain": [-117, 198], "nice": false, "zero": false}, "axis": null},
            "text": {"field": "t"}
          }
        },
        {
          "data": {"values": [{"u": -1, "w": 140, "t": "θ"}, {"u": 331, "w": 1, "t": "θ"}]},
          "mark": {"type": "text", "font": "DejaVu Serif", "fontWeight": "bold", "fontStyle": "italic", "fontSize": 19, "align": "center", "baseline": "middle", "color": "#000"},
          "encoding": {
            "x": {"field": "u", "type": "quantitative", "scale": {"domain": [-444, 383], "nice": false, "zero": false}, "axis": null},
            "y": {"field": "w", "type": "quantitative", "scale": {"domain": [-117, 198], "nice": false, "zero": false}, "axis": null},
            "text": {"field": "t"}
          }
        }
      ]
    }
  ]
}
